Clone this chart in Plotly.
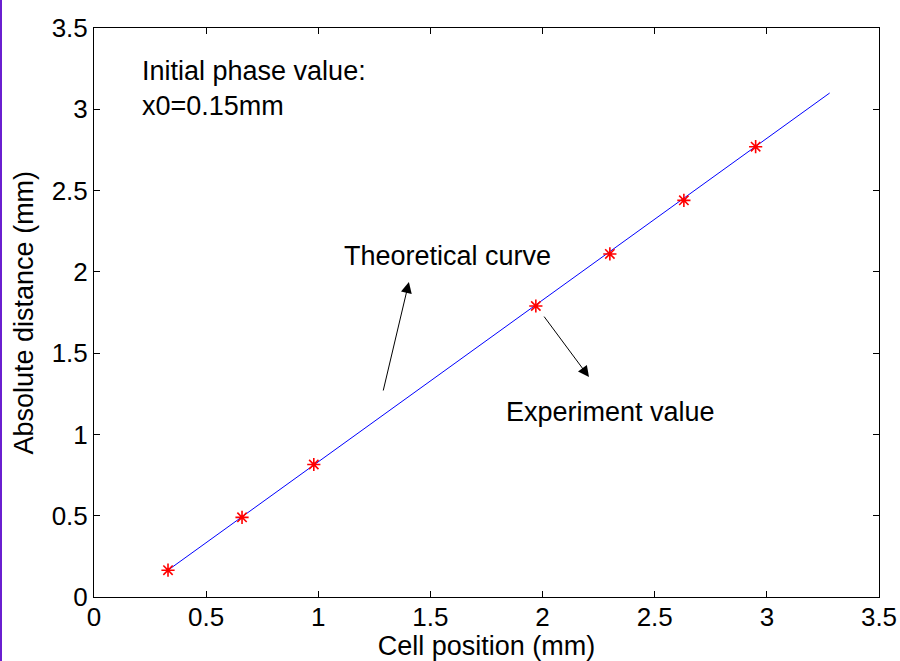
import plotly.graph_objects as go

# Experimental points
exp_x = [0.33, 0.66, 0.98, 1.97, 2.30, 2.63, 2.95]
exp_y = [0.165, 0.49, 0.815, 1.79, 2.11, 2.44, 2.77]

# Theoretical curve (straight line endpoints)
theo_x = [0.33, 3.28]
theo_y = [0.165, 3.10]

x_ticks = [0, 0.5, 1, 1.5, 2, 2.5, 3, 3.5]
y_ticks = [0, 0.5, 1, 1.5, 2, 2.5, 3, 3.5]

FONT = "Liberation Sans, Arial, sans-serif"
FS = 27

fig = go.Figure()
fig.add_trace(go.Scatter(x=theo_x, y=theo_y, mode="lines",
                         line=dict(color="#0000ff", width=1), showlegend=False))
fig.add_trace(go.Scatter(x=exp_x, y=exp_y, mode="markers",
                         marker=dict(symbol="asterisk-open", color="red", size=11,
                                     line=dict(color="red", width=1.6)),
                         showlegend=False))

axis_common = dict(showline=True, linecolor="black", linewidth=1, mirror="ticks",
                   ticks="inside", ticklen=6, tickcolor="black", showgrid=False,
                   zeroline=False, automargin=False,
                   tickfont=dict(family=FONT, size=26, color="black"))

fig.update_layout(
    width=900, height=661,
    margin=dict(l=94, r=21, t=28, b=64),
    paper_bgcolor="white", plot_bgcolor="white",
    font=dict(family=FONT, color="black"),
    xaxis=dict(range=[0, 3.5], tickvals=x_ticks,
               ticktext=[f"{v:g}" for v in x_ticks], ticklabelstandoff=-3,
               title=dict(text="Cell position (mm)", font=dict(size=27), standoff=0),
               **axis_common),
    yaxis=dict(range=[0, 3.5], tickvals=y_ticks,
               ticktext=[f"{v:g}" for v in y_ticks],
               **axis_common),
)

# Y-axis title (placed as rotated text for exact position)
fig.add_annotation(x=-71/785, y=0.5, xref="paper", yref="paper", xanchor="center",
                   yanchor="middle", text="Absolute distance (mm)", textangle=-90,
                   showarrow=False, font=dict(size=27, family=FONT, color="black"))

# Text annotations
fig.add_annotation(x=0.205, y=3.125, xref="x", yref="y", xanchor="left", yanchor="middle",
                   text="Initial phase value:<br>x0=0.15mm", showarrow=False, align="left",
                   font=dict(size=FS, family=FONT, color="black"))
fig.add_annotation(x=1.574, y=2.097, xref="x", yref="y", text="Theoretical curve",
                   showarrow=False, font=dict(size=FS, family=FONT, color="black"))
fig.add_annotation(x=2.305, y=1.138, xref="x", yref="y", text="Experiment value",
                   showarrow=False, font=dict(size=FS, family=FONT, color="black"))

# Arrows
fig.add_annotation(x=1.404, y=1.937, ax=1.288, ay=1.261, xref="x", yref="y",
                   axref="x", ayref="y", text="", showarrow=True, arrowhead=2,
                   arrowsize=2.2, arrowwidth=1, arrowcolor="black")
fig.add_annotation(x=2.207, y=1.353, ax=2.002, ay=1.734, xref="x", yref="y",
                   axref="x", ayref="y", text="", showarrow=True, arrowhead=2,
                   arrowsize=2.2, arrowwidth=1, arrowcolor="black")

# Purple left border of the window
fig.add_shape(type="rect", xref="paper", yref="paper",
              x0=-94/785, x1=-92/785, y0=-64/569, y1=1 + 28/569,
              fillcolor="#6a1fd0", line=dict(width=0), layer="above")

fig.write_html("out.html")
